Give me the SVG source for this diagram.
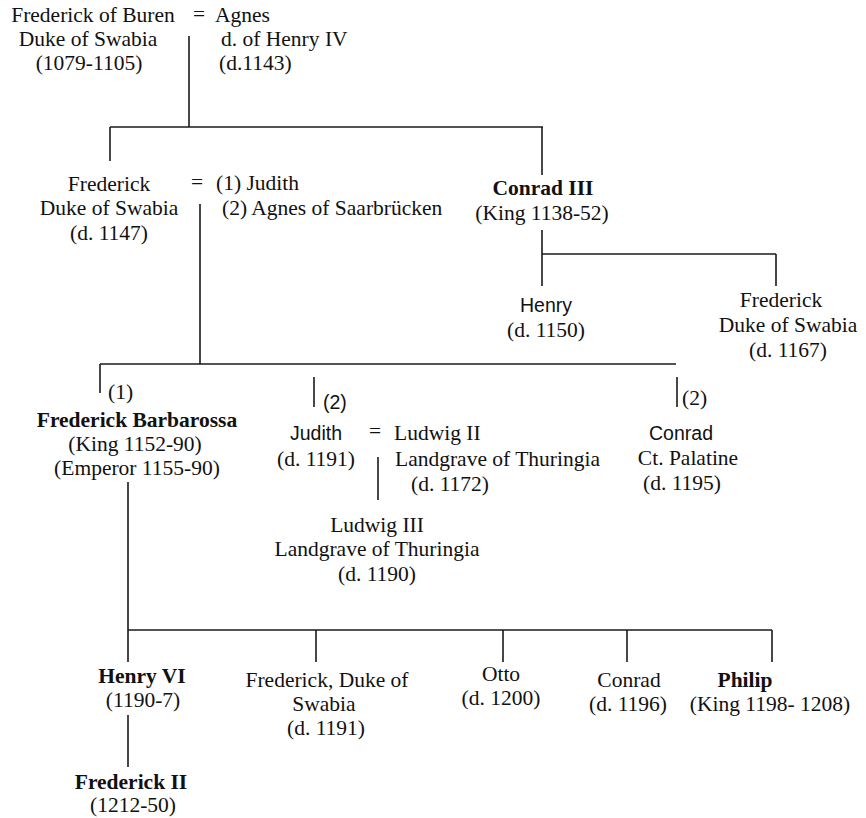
<svg xmlns="http://www.w3.org/2000/svg" width="866" height="818" viewBox="0 0 866 818">
<style>
text{font-family:"Liberation Serif","Times New Roman",serif;font-size:21.5px;fill:#111}
.m{text-anchor:middle}
.b{font-weight:bold}
.s{font-family:"Liberation Sans",Arial,sans-serif;font-size:19.5px}
.c line{stroke:#1a1a1a;stroke-width:1.6}
</style>
<rect width="866" height="818" fill="#fff"/>
<g class="c" id="connectors">
<line x1="189" y1="36" x2="189" y2="127"/>
<line x1="110" y1="127" x2="543" y2="127"/>
<line x1="110" y1="127" x2="110" y2="161"/>
<line x1="542" y1="127" x2="542" y2="175"/>
<line x1="200" y1="204" x2="200" y2="364"/>
<line x1="100" y1="364" x2="676" y2="364"/>
<line x1="100" y1="364" x2="100" y2="393"/>
<line x1="542" y1="230" x2="542" y2="286"/>
<line x1="542" y1="254" x2="776" y2="254"/>
<line x1="776" y1="254" x2="776" y2="286"/>
<line x1="314" y1="377" x2="314" y2="407"/>
<line x1="677" y1="377" x2="677" y2="407"/>
<line x1="378" y1="457" x2="378" y2="500"/>
<line x1="128" y1="482" x2="128" y2="662"/>
<line x1="128" y1="630" x2="772" y2="630"/>
<line x1="316" y1="630" x2="316" y2="662"/>
<line x1="503" y1="630" x2="503" y2="662"/>
<line x1="627" y1="630" x2="627" y2="662"/>
<line x1="772" y1="630" x2="772" y2="662"/>
<line x1="128" y1="715" x2="128" y2="767"/>
</g>
<g id="frederick-buren">
<text class="m" x="93" y="22">Frederick of Buren</text>
<text class="m" x="88" y="46">Duke of Swabia</text>
<text class="m" x="89" y="70">(1079-1105)</text>
</g>
<text x="199" y="21" class="m" font-size="18">=</text>
<g id="agnes">
<text x="215" y="22">Agnes</text>
<text x="221" y="46">d. of Henry IV</text>
<text x="219" y="70">(d.1143)</text>
</g>
<g id="frederick-1147">
<text class="m" x="109" y="191">Frederick</text>
<text class="m" x="109" y="215">Duke of Swabia</text>
<text class="m" x="109" y="240">(d. 1147)</text>
</g>
<text x="197" y="189" class="m" font-size="18">=</text>
<g id="wives">
<text x="216" y="190">(1) Judith</text>
<text x="222" y="215">(2) Agnes of Saarbrücken</text>
</g>
<g id="conrad-iii">
<text class="m b" x="543" y="195">Conrad III</text>
<text class="m" x="542" y="220">(King 1138-52)</text>
</g>
<g id="henry-1150">
<text class="m s" x="546" y="312">Henry</text>
<text class="m" x="546" y="337">(d. 1150)</text>
</g>
<g id="frederick-1167">
<text class="m" x="781" y="307">Frederick</text>
<text class="m" x="788" y="332">Duke of Swabia</text>
<text class="m" x="788" y="357">(d. 1167)</text>
</g>
<g id="barbarossa">
<text x="108" y="399">(1)</text>
<text class="m b" x="137" y="427">Frederick Barbarossa</text>
<text class="m" x="135" y="451">(King 1152-90)</text>
<text class="m" x="137" y="475">(Emperor 1155-90)</text>
</g>
<g id="judith">
<text class="s" x="323" y="409">(2)</text>
<text class="m s" x="316" y="440">Judith</text>
<text class="m" x="316" y="466">(d. 1191)</text>
</g>
<text x="375" y="438" class="m" font-size="18">=</text>
<g id="ludwig-ii">
<text x="394" y="440">Ludwig II</text>
<text x="395" y="466">Landgrave of Thuringia</text>
<text x="411" y="491">(d. 1172)</text>
</g>
<g id="ludwig-iii">
<text class="m" x="377" y="532">Ludwig III</text>
<text class="m" x="377" y="556">Landgrave of Thuringia</text>
<text class="m" x="377" y="581">(d. 1190)</text>
</g>
<g id="conrad-palatine">
<text x="682" y="405">(2)</text>
<text class="m s" x="681" y="440">Conrad</text>
<text class="m" x="688" y="465">Ct. Palatine</text>
<text class="m" x="682" y="490">(d. 1195)</text>
</g>
<g id="henry-vi">
<text class="m b" x="142" y="683">Henry VI</text>
<text class="m" x="143" y="707">(1190-7)</text>
</g>
<g id="frederick-ii">
<text class="m b" x="131" y="789">Frederick II</text>
<text class="m" x="133" y="812">(1212-50)</text>
</g>
<g id="frederick-1191">
<text class="m" x="327" y="687">Frederick, Duke of</text>
<text class="m" x="324" y="711">Swabia</text>
<text class="m" x="326" y="735">(d. 1191)</text>
</g>
<g id="otto">
<text class="m" x="501" y="681">Otto</text>
<text class="m" x="501" y="705">(d. 1200)</text>
</g>
<g id="conrad-1196">
<text class="m" x="629" y="687">Conrad</text>
<text class="m" x="628" y="711">(d. 1196)</text>
</g>
<g id="philip">
<text class="m b" x="745" y="687">Philip</text>
<text class="m" x="770" y="711">(King 1198- 1208)</text>
</g>
</svg>
